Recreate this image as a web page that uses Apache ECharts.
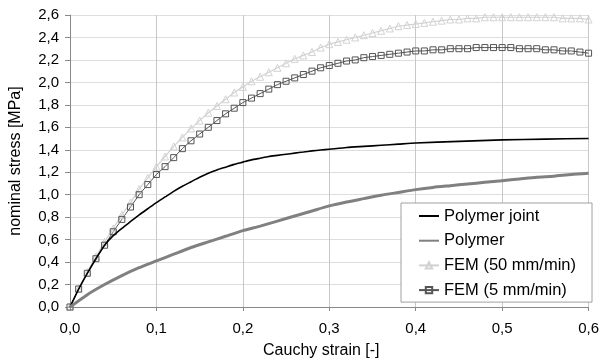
<!DOCTYPE html>
<html>
<head>
<meta charset="utf-8">
<script src="https://cdn.jsdelivr.net/npm/echarts@6/dist/echarts.min.js"></script>
<style>
  html, body { margin: 0; padding: 0; background: #fff; }
  #chart { width: 602px; height: 364px; }
</style>
</head>
<body>
<div id="chart"></div>
<script>
// values
const jointStrain = [0, 0.01, 0.02, 0.03, 0.04, 0.05, 0.06, 0.07, 0.08, 0.09, 0.10, 0.11, 0.12, 0.13, 0.14, 0.15,
  0.16, 0.17, 0.18, 0.19, 0.20, 0.21, 0.22, 0.23, 0.24, 0.25, 0.26, 0.27, 0.28, 0.29, 0.30,
  0.32, 0.34, 0.36, 0.38, 0.40, 0.45, 0.50, 0.55, 0.60];
const jointStress = [0, 0.16, 0.30, 0.43, 0.55, 0.635, 0.70, 0.76, 0.82, 0.875, 0.93, 0.98, 1.03, 1.075, 1.115, 1.155,
  1.19, 1.22, 1.245, 1.27, 1.29, 1.31, 1.325, 1.34, 1.35, 1.36, 1.37, 1.38, 1.39, 1.398, 1.405,
  1.42, 1.43, 1.44, 1.45, 1.46, 1.475, 1.488, 1.495, 1.50];

const polymerStrain = [0, 0.02, 0.04, 0.06, 0.08, 0.10, 0.12, 0.14, 0.16, 0.18, 0.20, 0.22, 0.24, 0.26, 0.28, 0.30,
  0.32, 0.34, 0.36, 0.38, 0.40, 0.42, 0.44, 0.46, 0.48, 0.50, 0.52, 0.54, 0.56, 0.58, 0.60];
const polymerStress = [0, 0.11, 0.20, 0.28, 0.35, 0.41, 0.47, 0.53, 0.58, 0.63, 0.68, 0.72, 0.765, 0.81, 0.855, 0.90,
  0.935, 0.965, 0.995, 1.02, 1.045, 1.065, 1.08, 1.095, 1.11, 1.125, 1.14, 1.155, 1.165, 1.18, 1.19];

const femStrain = [0, 0.01, 0.02, 0.03, 0.04, 0.05, 0.06, 0.07, 0.08, 0.09, 0.10, 0.11, 0.12, 0.13, 0.14, 0.15,
  0.16, 0.17, 0.18, 0.19, 0.20, 0.21, 0.22, 0.23, 0.24, 0.25, 0.26, 0.27, 0.28, 0.29, 0.30,
  0.31, 0.32, 0.33, 0.34, 0.35, 0.36, 0.37, 0.38, 0.39, 0.40, 0.41, 0.42, 0.43, 0.44, 0.45,
  0.46, 0.47, 0.48, 0.49, 0.50, 0.51, 0.52, 0.53, 0.54, 0.55, 0.56, 0.57, 0.58, 0.59, 0.60];
const fem50Stress = [0, 0.16, 0.31, 0.45, 0.58, 0.70, 0.82, 0.93, 1.05, 1.15, 1.25, 1.34, 1.43, 1.51, 1.59, 1.66,
  1.73, 1.79, 1.85, 1.91, 1.96, 2.01, 2.05, 2.09, 2.13, 2.17, 2.21, 2.24, 2.27, 2.31, 2.34,
  2.36, 2.38, 2.40, 2.42, 2.44, 2.46, 2.48, 2.50, 2.51, 2.52, 2.53, 2.54, 2.55, 2.56, 2.56,
  2.57, 2.57, 2.58, 2.58, 2.58, 2.58, 2.58, 2.58, 2.58, 2.58, 2.58, 2.57, 2.57, 2.57, 2.56];
const fem5Stress = [0, 0.16, 0.30, 0.43, 0.55, 0.67, 0.78, 0.89, 1.00, 1.09, 1.18, 1.25, 1.33, 1.41, 1.48, 1.54,
  1.60, 1.66, 1.72, 1.77, 1.82, 1.86, 1.90, 1.94, 1.98, 2.01, 2.04, 2.07, 2.10, 2.13, 2.15,
  2.17, 2.19, 2.20, 2.22, 2.23, 2.24, 2.25, 2.26, 2.27, 2.28, 2.28, 2.29, 2.29, 2.30, 2.30,
  2.30, 2.31, 2.31, 2.31, 2.31, 2.31, 2.30, 2.30, 2.30, 2.29, 2.29, 2.28, 2.28, 2.27, 2.26];

const seriesNames = ['Polymer joint', 'Polymer', 'FEM (50 mm/min)', 'FEM (5 mm/min)'];

const pairs = (xs, ys) => xs.map((x, i) => [x, ys[i]]);
const comma = (v) => v.toFixed(1).replace('.', ',');
const font = 'Arial, "Liberation Sans", sans-serif';

const chart = echarts.init(document.getElementById('chart'), undefined, { renderer: 'canvas' });

chart.setOption({
  animation: false,
  backgroundColor: '#fff',
  textStyle: { fontFamily: font },
  grid: { left: 66.7, right: 11.5, top: 15, bottom: 55, containLabel: false },
  legend: {
    orient: 'vertical',
    left: 401,
    top: 203,
    width: 190,
    backgroundColor: '#fff',
    borderColor: '#a0a0a0',
    borderWidth: 1,
    borderRadius: 0,
    padding: [3, 16, 2, 17],
    itemWidth: 20,
    itemHeight: 8,
    itemGap: 4.7,
    data: [
      // plain line keys for the two measured curves
      { name: seriesNames[0], itemStyle: { opacity: 0 } },
      { name: seriesNames[1], itemStyle: { opacity: 0 } },
      { name: seriesNames[2] },
      { name: seriesNames[3] }
    ],
    textStyle: { fontSize: 16.5, color: '#000', lineHeight: 20, fontFamily: font }
  },
  xAxis: {
    type: 'value',
    min: 0,
    max: 0.6,
    interval: 0.1,
    name: 'Cauchy strain [-]',
    nameLocation: 'middle',
    nameGap: 36,
    nameTextStyle: { fontSize: 16, color: '#000', padding: [0, 16, 0, 0], fontFamily: font },
    axisLine: { show: true, lineStyle: { color: '#888', width: 1 } },
    axisTick: { show: true, length: 4, lineStyle: { color: '#888' } },
    axisLabel: { fontSize: 15, color: '#000', margin: 14, formatter: comma, fontFamily: font },
    splitLine: { show: true, lineStyle: { color: '#c8c8c8', width: 1 } }
  },
  yAxis: {
    type: 'value',
    min: 0,
    max: 2.6,
    interval: 0.2,
    name: 'nominal stress [MPa]',
    nameLocation: 'middle',
    nameGap: 46,
    nameTextStyle: { fontSize: 16, color: '#000', fontFamily: font },
    axisLine: { show: true, lineStyle: { color: '#888', width: 1 } },
    axisTick: { show: true, length: 5, lineStyle: { color: '#888' } },
    axisLabel: { fontSize: 15, color: '#000', margin: 11, formatter: comma, fontFamily: font },
    splitLine: { show: true, lineStyle: { color: '#dedede', width: 1 } }
  },
  series: [
    {
      name: seriesNames[0],
      type: 'line',
      data: pairs(jointStrain, jointStress),
      showSymbol: false,
      smooth: 0.2,
      lineStyle: { color: '#000', width: 1.6 },
      itemStyle: { color: '#000' },
      z: 3
    },
    {
      name: seriesNames[1],
      type: 'line',
      data: pairs(polymerStrain, polymerStress),
      showSymbol: false,
      smooth: 0.2,
      lineStyle: { color: '#808080', width: 3 },
      itemStyle: { color: '#808080' },
      z: 3
    },
    {
      name: seriesNames[2],
      type: 'line',
      data: pairs(femStrain, fem50Stress),
      symbol: 'triangle',
      symbolSize: 7,
      lineStyle: { color: '#d2d2d2', width: 1.2 },
      itemStyle: { color: 'rgba(255,255,255,0)', borderColor: '#d2d2d2', borderWidth: 1 },
      z: 2
    },
    {
      name: seriesNames[3],
      type: 'line',
      data: pairs(femStrain, fem5Stress),
      symbol: 'rect',
      symbolSize: 6,
      lineStyle: { color: '#555', width: 1 },
      itemStyle: { color: 'rgba(255,255,255,0)', borderColor: '#555', borderWidth: 1 },
      z: 2
    }
  ]
});
</script>
</body>
</html>
